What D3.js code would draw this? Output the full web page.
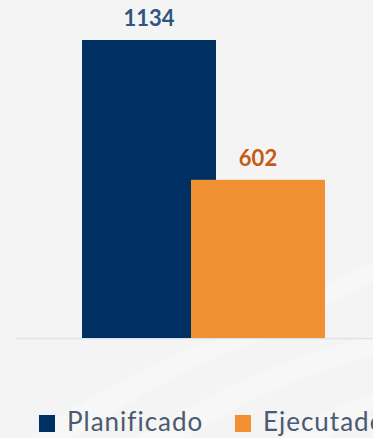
<!DOCTYPE html>
<html>
<head>
<meta charset="utf-8">
<script src="https://cdn.jsdelivr.net/npm/d3@7"></script>
<style>
  html, body { margin: 0; padding: 0; background: #f4f4f4; overflow: hidden; }
  svg { display: block; }
</style>
</head>
<body>
<div id="chart"></div>
<script>
(function() {
  var series = ['Planificado', 'Ejecutado'];
  var values = [1134, 602];
  var colors = ['#002f63', '#f09033'];
  var labelColors = ['#2f5581', '#c65a13'];

  var width = 373;
  var height = 438;
  var baseY = 338;
  var topY = 40;

  var svg = d3.select('#chart').append('svg')
    .attr('width', width)
    .attr('height', height);

  // faint background swooshes
  var bg = svg.append('g');
  bg.append('rect').attr('width', width).attr('height', height).attr('fill', '#f4f4f4');
  var swooshes = [
    'M-20,470 C80,400 180,340 260,330 L300,330 C200,350 100,420 30,470 Z',
    'M90,470 C200,390 300,350 400,330 L400,350 C300,370 200,420 150,470 Z',
    'M230,470 C300,420 360,395 400,385 L400,400 C360,410 320,440 290,470 Z',
    'M250,330 C300,300 350,270 400,250 L400,270 C350,290 310,315 280,335 Z'
  ];
  bg.selectAll('path').data(swooshes).enter().append('path')
    .attr('d', function(d) { return d; })
    .attr('fill', '#ffffff')
    .attr('opacity', 0.3);

  var y = d3.scaleLinear()
    .domain([0, values[0]])
    .range([baseY, topY]);

  // bars overlap slightly, as in the original
  var x = d3.scaleOrdinal()
    .domain(series)
    .range([82, 191]);
  var barWidth = 134;

  svg.append('line')
    .attr('x1', 16).attr('x2', width)
    .attr('y1', baseY + 0.5).attr('y2', baseY + 0.5)
    .attr('stroke', '#dce2ea')
    .attr('stroke-width', 1.5);

  var bars = svg.selectAll('.bar')
    .data(series)
    .enter().append('g')
    .attr('class', 'bar');

  bars.append('rect')
    .attr('x', function(d) { return x(d); })
    .attr('y', function(d, i) { return y(values[i]); })
    .attr('width', barWidth)
    .attr('height', function(d, i) { return baseY - y(values[i]); })
    .attr('fill', function(d, i) { return colors[i]; });

  bars.append('text')
    .attr('x', function(d) { return x(d) + barWidth / 2; })
    .attr('y', function(d, i) { return y(values[i]) - 14; })
    .attr('text-anchor', 'middle')
    .attr('font-family', 'Lato, Liberation Sans, sans-serif')
    .attr('font-weight', 'bold')
    .attr('font-size', 22)
    .attr('fill', function(d, i) { return labelColors[i]; })
    .text(function(d, i) { return values[i]; });

  // legend
  var legendX = [39, 235];
  var legend = svg.selectAll('.legend')
    .data(series)
    .enter().append('g')
    .attr('class', 'legend')
    .attr('transform', function(d, i) { return 'translate(' + legendX[i] + ',415)'; });

  legend.append('rect')
    .attr('width', 16)
    .attr('height', 17)
    .attr('fill', function(d, i) { return colors[i]; });

  legend.append('text')
    .attr('x', 28)
    .attr('y', 16)
    .attr('font-family', 'Lato, Noto Sans, sans-serif')
    .attr('font-size', 26)
    .attr('letter-spacing', 1)
    .attr('fill', '#4a5a70')
    .text(function(d) { return d; });
})();
</script>
</body>
</html>
